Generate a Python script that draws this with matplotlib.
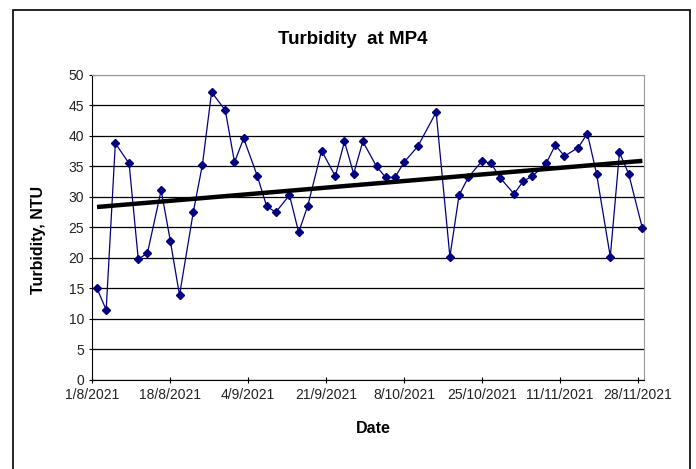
import matplotlib
matplotlib.use('Agg')
import matplotlib.pyplot as plt
import matplotlib.dates as mdates
from matplotlib.patches import Rectangle
import numpy as np
import pandas as pd

plt.rcParams['font.family'] = ['Liberation Sans', 'DejaVu Sans']

# sampling dates (day/month, 2021) and turbidity readings
dates = ['2/8', '4/8', '6/8', '9/8', '11/8', '13/8', '16/8', '18/8', '20/8', '23/8',
         '25/8', '27/8', '30/8', '1/9', '3/9', '6/9', '8/9', '10/9', '13/9', '15/9',
         '17/9', '20/9', '23/9', '25/9', '27/9', '29/9', '2/10', '4/10', '6/10', '8/10',
         '11/10', '15/10', '18/10', '20/10', '22/10', '25/10', '27/10', '29/10', '1/11', '3/11',
         '5/11', '8/11', '10/11', '12/11', '15/11', '17/11', '19/11', '22/11', '24/11', '26/11',
         '29/11']
turbidity = [15.0, 11.5, 38.8, 35.5, 19.8, 20.8, 31.1, 22.8, 13.9, 27.5,
             35.3, 47.2, 44.2, 35.7, 39.6, 33.4, 28.5, 27.5, 30.3, 24.2,
             28.6, 37.6, 33.4, 39.1, 33.8, 39.1, 35.0, 33.2, 33.2, 35.7,
             38.3, 43.9, 20.2, 30.3, 33.2, 35.9, 35.5, 33.1, 30.5, 32.6,
             33.4, 35.5, 38.5, 36.7, 38.1, 40.4, 33.8, 20.2, 37.3, 33.8,
             24.9]
tick_labels = ['1/8/2021', '18/8/2021', '4/9/2021', '21/9/2021', '8/10/2021',
               '25/10/2021', '11/11/2021', '28/11/2021']

x = pd.to_datetime([d + '/2021' for d in dates], format='%d/%m/%Y')
ticks = pd.to_datetime(tick_labels, format='%d/%m/%Y')

fig = plt.figure(figsize=(6.96, 4.69), dpi=100)
ax = fig.add_axes([0.1328, 0.1898, 0.7929, 0.6503])

ax.plot(x, turbidity, color='#000080', lw=0.9, marker='D', ms=4.2, mfc='#000080', mec='#000080',
        clip_on=False, zorder=3)

# linear trendline
xn = mdates.date2num(x)
k, b = np.polyfit(xn, turbidity, 1)
ax.plot(x, k * xn + b, color='black', lw=3.2, solid_capstyle='butt', zorder=4)

ax.set_xlim(pd.Timestamp('2021-08-01'), pd.Timestamp('2021-11-29 10:00'))
ax.set_ylim(0, 50)
ax.set_yticks(range(0, 51, 5))
ax.set_xticks(ticks)
ax.set_xticklabels(tick_labels)
ax.tick_params(labelsize=10, colors='black', direction='inout', length=5, width=0.8)
for lbl in ax.get_xticklabels() + ax.get_yticklabels():
    lbl.set_color('#222222')

ax.yaxis.grid(True, color='black', lw=0.9)
ax.get_ygridlines()[-1].set_color('#999999')
ax.set_axisbelow(True)
for s in ['top', 'right']:
    ax.spines[s].set_color('#999999')
for s in ['left', 'bottom']:
    ax.spines[s].set_color('black')

fig.text(0.507, 0.915, 'Turbidity  at MP4', ha='center', va='center', fontsize=13.5, fontweight='bold')
fig.text(0.536, 0.087, 'Date', ha='center', va='center', fontsize=11.5, fontweight='bold')
fig.text(0.055, 0.488, 'Turbidity, NTU', ha='center', va='center', rotation=90, fontsize=11.5, fontweight='bold')

fig.patches.append(Rectangle((13 / 696, -0.05), 677 / 696, 1.05 - 10 / 469, transform=fig.transFigure,
                             fill=False, edgecolor='black', lw=1.2))

plt.savefig('out.png')
